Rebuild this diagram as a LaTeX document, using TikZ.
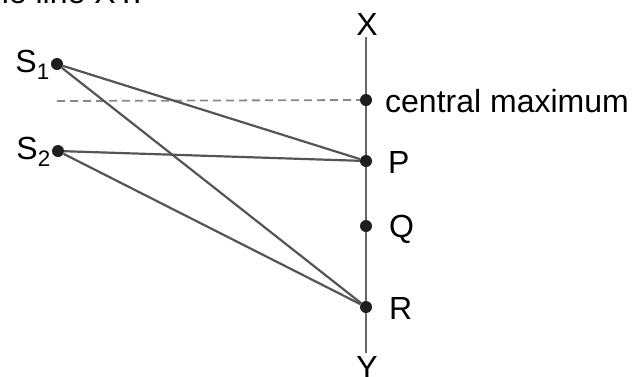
\documentclass[tikz,border=0pt]{standalone}
\usepackage{fontspec}
\setmainfont{Liberation Sans}
\usetikzlibrary{positioning}
\definecolor{ray}{HTML}{555555}
\definecolor{dotc}{HTML}{1E1E1E}

\begin{document}
\begin{tikzpicture}[
  x=1pt,y=-1pt,
  ray/.style={draw=ray,line width=2.2pt},
  screen/.style={draw=ray!90,line width=2.3pt},
  centre/.style={draw=ray!70,line width=1.8pt,dash pattern=on 8pt off 5pt},
  dot/.style={circle,fill=dotc,inner sep=0pt,minimum size=12pt},
  lbl/.style={font=\fontsize{32}{38}\selectfont,inner sep=0pt}
]
\useasboundingbox (0,0) rectangle (632,376);
% screen XY
\coordinate (top) at (366,37);
\coordinate (bot) at (366,353);
\draw[screen] (top) -- (bot);
\node[lbl] (xlab) at (367,24) {X};
\node[lbl] (ylab) at (367,367) {Y};
\node[lbl,anchor=base east] (cap) at (142,3) {the line XY.};
% slits
\node[dot] (s1) at (57,64) {};
\node[dot] (s2) at (58,151) {};
\node[lbl,anchor=east] (s1lab) at (50,65) {S\textsubscript{1}};
\node[lbl,anchor=east] (s2lab) at (51,152) {S\textsubscript{2}};
% points on the screen
\node[dot] (cm) at (366,100) {};
\node[dot] (p) at (366,161) {};
\node[dot] (q) at (366,226) {};
\node[dot] (r) at (366,307) {};
\node[lbl,anchor=west] (cmlab) at (385,101) {central maximum};
\node[lbl,anchor=west] (plab) at (388,162) {P};
\node[lbl,anchor=west] (qlab) at (389,229) {Q};
\node[lbl,anchor=west] (rlab) at (389,308) {R};
% path lines
\coordinate (mid) at (57,101);
\draw[centre] (mid) -- (cm);
\draw[ray] (s1) -- (p);
\draw[ray] (s1) -- (r);
\draw[ray] (s2) -- (p);
\draw[ray] (s2) -- (r);
\end{tikzpicture}
\end{document}
